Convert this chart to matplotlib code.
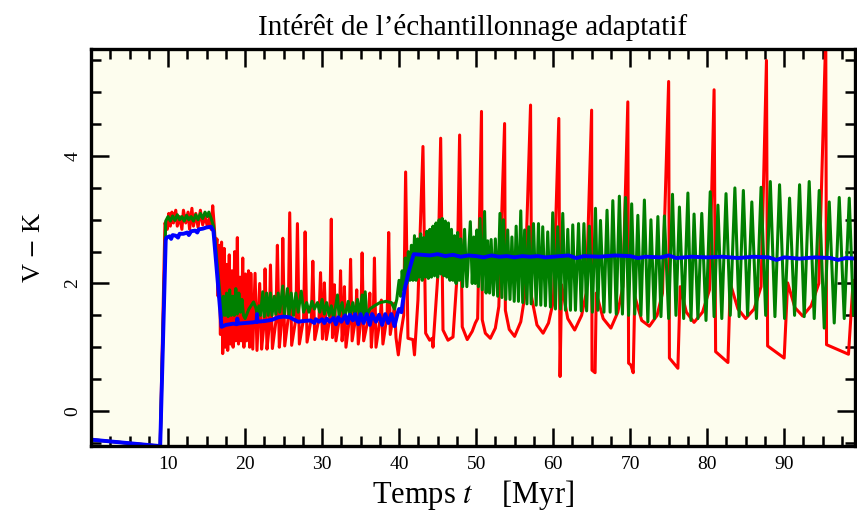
import matplotlib
matplotlib.use('Agg')
import matplotlib.pyplot as plt
from matplotlib.ticker import MultipleLocator

plt.rcParams['font.family'] = ['Liberation Serif', 'DejaVu Serif']
plt.rcParams['mathtext.fontset'] = 'stix'

# red curve (time in Myr, V-K)
red_t = [0, 8.8, 8.95, 9.6, 9.9, 10.1, 10.3, 10.5, 10.7, 11.0, 11.2, 11.5, 11.8, 12.0, 12.3,
         12.6, 12.8, 13.1, 13.3, 13.6, 13.9, 14.2, 14.5, 14.8, 15.1, 15.4, 15.6, 15.8, 16.0,
         16.2, 16.35, 16.5, 16.65, 16.8, 16.95, 17.1, 17.3, 17.45, 17.6, 17.75, 17.95, 18.1,
         18.3, 18.45, 18.65, 18.8, 19.0, 19.15, 19.35, 19.5, 19.7, 19.85, 20.05, 20.2, 20.45,
         20.6, 20.75, 21.0, 21.3, 21.55, 21.9, 22.15, 22.45, 22.6, 22.85, 23.15, 23.3, 23.55,
         24.0, 24.2, 24.45, 24.75, 24.9, 25.15, 25.6, 25.8, 26.05, 26.6, 26.8, 27.05, 27.6,
         27.8, 28.05, 28.6, 28.8, 29.05, 29.6, 29.8, 30.05, 30.2, 30.3, 30.55, 31.0, 31.2,
         31.35, 31.5, 31.6, 31.8, 32.25, 32.4, 32.6, 32.8, 32.9, 33.1, 33.55, 33.7, 33.9,
         34.35, 34.5, 34.7, 35.05, 35.2, 35.4, 36.0, 36.2, 36.4, 36.65, 36.8, 37.0, 37.55,
         37.7, 37.9, 38.45, 38.65, 38.85, 39.25, 39.4, 39.6, 39.9, 40.2, 40.6, 40.85, 41.15,
         41.8, 42.0, 42.45, 43.1, 43.45, 43.97, 44.3, 44.4, 45.05, 45.4, 45.7, 46.35, 47.0,
         47.55, 47.86, 48.2, 48.85, 49.5, 49.9, 50.2, 50.7, 50.8, 51.2, 51.85, 52.5, 52.95,
         53.7, 53.8, 54.3, 55.0, 55.8, 56.3, 57.07, 57.2, 57.9, 58.7, 59.4, 59.9, 60.05, 60.74,
         60.9, 61.1, 61.9, 62.8, 63.7, 64.3, 65.0, 65.05, 65.45, 65.6, 66.5, 67.5, 68.4, 69.05,
         69.7, 69.8, 70.1, 70.4, 70.6, 71.5, 72.5, 73.5, 74.2, 75.0, 75.1, 76.2, 76.5, 77.3,
         78.3, 79.4, 80.3, 80.9, 81.1, 82.7, 83.0, 84.0, 85.0, 86.1, 87.0, 87.7, 87.85, 90.0,
         90.45, 91.4, 92.4, 93.5, 94.5, 95.4, 95.5, 98.35, 98.96, 99.4]
red_v = [-0.45, -0.55, -0.7, 2.95, 2.85, 3.1, 2.9, 3.12, 2.95, 3.15, 2.9, 3.05, 2.85, 3.15, 2.95,
         3.12, 2.85, 3.18, 2.9, 3.1, 2.88, 3.15, 2.92, 3.05, 2.9, 3.05, 2.85, 3.22, 2.9,
         2.5, 2.7, 1.8, 2.6, 1.2, 2.65, 0.9, 2.55, 1.0, 2.3, 0.95, 2.45, 1.05,
         2.2, 1.0, 2.5, 1.1, 2.72, 1.05, 2.1, 1.1, 2.4, 1.0, 2.15, 1.1, 2.2,
         1.0, 2.16, 0.97, 2.16, 0.95, 2.0, 0.97, 1.35, 2.23, 0.97, 1.35, 2.29, 0.98,
         1.4, 2.6, 1.0, 1.4, 2.71, 1.02, 1.45, 3.11, 1.03, 1.45, 2.94, 1.05, 1.45,
         2.81, 1.08, 1.45, 2.35, 1.12, 1.45, 2.17, 1.13, 1.4, 2.01, 1.12, 1.45, 3.01,
         1.15, 1.4, 1.98, 1.1, 1.45, 2.2, 1.1, 1.4, 1.95, 1.0, 1.45, 2.38, 1.1,
         1.45, 1.9, 1.05, 1.45, 2.48, 1.1, 1.45, 1.85, 1.0, 1.45, 2.4, 1.0, 1.45,
         1.74, 1.05, 1.5, 2.8, 1.2, 1.5, 1.69, 1.15, 0.88, 1.2, 1.5, 3.75, 1.14,
         1.12, 0.88, 1.74, 4.15, 1.22, 1.11, 1.14, 1.0, 2.16, 4.28, 1.27, 1.11, 1.16,
         2.16, 4.33, 1.32, 1.12, 1.25, 1.38, 1.45, 4.70, 1.43, 1.22, 1.14, 1.3, 1.64,
         4.51, 1.58, 1.28, 1.17, 1.4, 1.79, 4.80, 1.79, 1.35, 1.22, 1.38, 1.65, 1.79, 4.59,
         0.54, 1.98, 1.45, 1.27, 1.5, 1.85, 4.72, 0.64, 0.6, 1.85, 1.45, 1.30, 1.55, 1.95,
         4.85, 0.75, 0.72, 0.6, 1.8, 1.42, 1.33, 1.5, 1.85, 5.17, 0.83, 0.67, 1.95, 1.55,
         1.39, 1.55, 1.9, 5.04, 0.93, 0.76, 2.0, 1.6, 1.45, 1.6, 1.95, 5.50, 1.02, 0.83,
         2.01, 1.62, 1.49, 1.65, 2.0, 5.9, 1.04, 0.89, 2.05, 1.9]

# green curve
green_t = [0, 8.8, 8.95, 9.7, 10.0, 10.3, 10.6, 10.9, 11.2, 11.5, 11.8, 12.1, 12.4, 12.7, 13.0,
           13.3, 13.6, 13.9, 14.2, 14.5, 14.8, 15.1, 15.3, 15.6, 15.9, 16.1, 17.0, 17.2, 17.4,
           17.6, 17.8, 18.0, 18.2, 18.4, 18.6, 18.8, 19.0, 19.2, 19.4, 19.6, 19.8, 20.0, 20.5,
           21.1, 21.4, 21.6, 21.8, 22.0, 22.3, 22.5, 22.8, 23.0, 23.3, 23.5, 23.8, 24.0, 24.3,
           24.5, 24.9, 25.1, 25.5, 25.7, 26.0, 26.3, 26.6, 26.9, 27.3, 27.6, 28.0, 28.3, 28.7,
           29.0, 29.4, 29.7, 30.0, 30.3, 30.6, 30.9, 31.2, 31.5, 32.0, 32.2, 32.6, 32.9, 33.4,
           33.6, 34.0, 34.3, 34.6, 34.9, 35.2, 35.4, 35.6, 35.8, 36.2, 36.8, 37.5, 38.3, 39.0,
           39.4, 39.7, 40.0, 40.2, 40.4, 40.6, 40.8, 41.0, 41.2, 41.4, 41.6, 41.8, 42.0, 42.2,
           42.4, 42.6, 42.8, 43.0, 43.2, 43.4, 43.6, 43.8, 44.0, 44.2, 44.4, 44.6, 44.8, 45.0,
           45.2, 45.4, 45.6, 45.8, 46.0, 46.2, 46.4, 46.6, 46.8, 47.0, 47.2, 47.4, 47.6, 47.8,
           48.0, 48.25, 48.5, 48.8, 49.25, 49.5, 49.7, 49.9, 50.1, 50.3, 50.5, 50.8, 51.1,
           51.3, 51.5, 51.75, 51.95, 52.25, 52.5, 52.8, 53.1, 53.35, 53.55, 53.85, 54.1, 54.4,
           54.65, 54.95, 55.2, 55.5, 55.8, 56.05, 56.3, 56.6, 56.85, 57.15, 57.45, 57.8, 58.1,
           58.4, 58.65, 59.0, 59.3, 59.65, 59.95, 60.3, 60.6, 60.95, 61.25, 61.6, 61.9, 62.25,
           62.55, 62.9, 63.3, 63.65, 64.0, 64.35, 64.7, 65.1, 65.5, 65.8, 66.15, 66.6, 67.0,
           67.4, 67.75, 68.2, 68.6, 69.0, 69.4, 69.8, 70.2, 70.6, 71.0, 71.4, 71.85, 72.3,
           72.7, 73.15, 73.6, 74.0, 74.45, 75.0, 75.5, 75.95, 76.4, 76.95, 77.5, 77.9, 78.3,
           78.8, 79.3, 79.85, 80.4, 80.9, 81.4, 81.9, 82.45, 83.0, 83.6, 84.15, 84.7, 85.25,
           85.8, 86.4, 87.0, 87.6, 88.2, 88.8, 89.4, 90.05, 90.7, 91.35, 92.0, 92.6, 93.25,
           93.9, 94.55, 95.2, 95.85, 96.5, 97.15, 97.8, 98.45, 99.0, 99.4]
green_v = [-0.45, -0.55, -0.7, 2.98, 3.05, 2.98, 3.06, 2.99, 3.08, 3.0, 3.05, 2.98, 3.07, 3.0, 3.05,
           2.98, 3.08, 3.0, 3.1, 3.02, 3.12, 3.05, 3.12, 3.02, 2.9, 2.68, 1.48, 1.8, 1.5,
           1.85, 1.48, 1.9, 1.5, 1.8, 1.5, 1.92, 1.52, 1.85, 1.55, 1.75, 1.5, 1.45, 1.6,
           1.71, 1.62, 1.5, 1.65, 1.5, 1.87, 1.48, 1.85, 1.5, 1.85, 1.5, 1.8, 1.52, 1.85,
           1.55, 1.96, 1.5, 1.92, 1.5, 1.85, 1.5, 1.85, 1.55, 1.88, 1.55, 1.7, 1.55, 1.72,
           1.6, 1.7, 1.55, 1.75, 1.52, 1.7, 1.5, 1.65, 1.45, 1.82, 1.5, 1.7, 1.45, 1.72,
           1.48, 1.7, 1.48, 1.75, 1.5, 1.82, 1.5, 1.87, 1.5, 1.6, 1.65, 1.7, 1.72, 1.7,
           1.6, 1.75, 2.05, 1.8, 2.2, 1.9, 2.4, 2.0, 2.5, 2.05, 2.6, 2.05, 2.75, 2.05,
           2.7, 2.1, 2.78, 2.05, 2.72, 2.1, 2.82, 2.08, 2.85, 2.1, 2.9, 2.12, 2.95, 2.1,
           3.0, 2.15, 3.02, 2.12, 2.98, 2.1, 2.95, 2.05, 2.85, 2.05, 2.75, 2.0, 2.8, 2.05,
           2.7, 1.95, 2.85, 1.95, 2.97, 2.0, 2.73, 2.0, 2.84, 1.95, 3.02, 1.9, 3.13,
           1.85, 2.67, 1.85, 2.69, 1.82, 2.7, 1.8, 3.1, 1.78, 3.0, 1.75, 2.84, 1.75,
           2.73, 1.72, 2.9, 1.72, 3.14, 1.7, 2.84, 1.68, 2.89, 1.68, 2.94, 1.66, 2.94,
           1.66, 2.89, 1.65, 2.81, 1.63, 3.11, 1.6, 2.89, 1.6, 3.1, 1.58, 2.85, 1.58,
           2.92, 1.58, 2.94, 1.57, 2.94, 1.57, 2.9, 1.55, 3.18, 1.58, 2.99, 1.55, 3.15,
           1.55, 3.3, 1.52, 3.37, 1.52, 3.35, 1.5, 3.25, 1.52, 3.07, 1.5, 3.31, 1.4,
           3.0, 1.45, 3.05, 1.48, 3.06, 1.45, 3.4, 1.5, 3.2, 1.45, 3.42, 1.42, 3.09,
           1.45, 3.1, 1.42, 3.44, 1.48, 3.23, 1.45, 3.41, 1.5, 3.5, 1.48, 3.46, 1.5,
           3.28, 1.45, 3.51, 1.5, 3.6, 1.48, 3.55, 1.45, 3.34, 1.5, 3.55, 1.48, 3.6,
           1.45, 3.46, 1.3, 3.28, 1.38, 3.35, 1.45, 3.34, 1.5, 2.0]

# blue curve
blue_t = [0, 8.85, 8.95, 9.7, 9.8, 10.2, 10.4, 10.6, 11.0, 11.3, 11.5, 12.0, 12.5, 12.7, 13.0,
          13.5, 13.8, 14.0, 14.5, 15.0, 15.6, 15.9, 16.95, 17.5, 18.5, 18.9, 19.0, 19.1, 20.0,
          21.0, 21.5, 21.55, 21.6, 22.5, 23.5, 24.3, 25.0, 25.8, 26.4, 26.9, 27.5, 28.5, 29.0,
          29.2, 29.6, 30.0, 30.3, 30.6, 31.0, 31.5, 31.8, 32.1, 32.5, 33.0, 33.3, 33.6, 34.0,
          34.3, 34.7, 35.0, 35.4, 35.8, 36.2, 36.5, 37.0, 37.4, 37.8, 38.2, 38.6, 39.0, 39.4,
          39.8, 40.0, 40.3, 40.7, 41.2, 41.9, 43, 44, 45, 46, 47, 48, 49, 50, 51, 52, 53, 54,
          55, 56, 57, 58, 59, 60, 62, 63, 64, 66, 68, 70, 71, 72, 74, 75, 76, 78, 80, 82, 84,
          86, 88, 89, 90, 92, 94, 96, 97, 98, 99.4]
blue_v = [-0.45, -0.55, -0.7, 2.68, 2.72, 2.74, 2.7, 2.76, 2.75, 2.72, 2.78, 2.78, 2.8, 2.76, 2.82,
          2.83, 2.8, 2.85, 2.86, 2.88, 2.89, 2.82, 1.32, 1.35, 1.37, 1.36, 1.45, 1.37, 1.38,
          1.39, 1.4, 1.52, 1.4, 1.41, 1.43, 1.47, 1.48, 1.47, 1.43, 1.40, 1.41, 1.42, 1.38,
          1.44, 1.40, 1.44, 1.38, 1.45, 1.40, 1.46, 1.36, 1.47, 1.40, 1.5, 1.38, 1.51, 1.42,
          1.52, 1.36, 1.52, 1.38, 1.52, 1.35, 1.52, 1.40, 1.51, 1.35, 1.52, 1.38, 1.52, 1.33,
          1.53, 1.6, 1.55, 1.9, 2.16, 2.46, 2.45, 2.44, 2.46, 2.43, 2.45, 2.42, 2.44, 2.43,
          2.41, 2.44, 2.42, 2.43, 2.41, 2.43, 2.42, 2.43, 2.41, 2.42, 2.44, 2.40, 2.43, 2.42,
          2.44, 2.43, 2.40, 2.42, 2.41, 2.44, 2.40, 2.42, 2.41, 2.42, 2.40, 2.42, 2.41, 2.37,
          2.41, 2.39, 2.41, 2.40, 2.37, 2.40, 2.39]

fig = plt.figure(figsize=(8.57, 5.2), dpi=100)
ax = fig.add_axes([0.1062, 0.1423, 0.8915, 0.7635])
ax.set_facecolor('#fdfdee')

ax.plot(red_t, red_v, color='#ff0000', lw=2.2)
ax.plot(green_t, green_v, color='#008000', lw=2.2)
ax.plot(blue_t, blue_v, color='#0000ff', lw=2.8)

ax.set_xlim(0, 99.2)
ax.set_ylim(-0.55, 5.68)

ax.xaxis.set_major_locator(MultipleLocator(10))
ax.xaxis.set_minor_locator(MultipleLocator(2.5))
ax.yaxis.set_major_locator(MultipleLocator(2))
ax.yaxis.set_minor_locator(MultipleLocator(0.5))
ax.set_xticks([10, 20, 30, 40, 50, 60, 70, 80, 90])
ax.tick_params(which='both', direction='in', top=True, right=True, width=1.8)
ax.tick_params(which='major', length=13, labelsize=14, pad=7)
ax.tick_params(which='minor', length=7)
for lab in ax.get_yticklabels():
    lab.set_rotation(90)
    lab.set_va('center')
for sp in ax.spines.values():
    sp.set_linewidth(2.4)

ax.set_xlabel('Temps $t$    [Myr]', fontsize=22, labelpad=4)
ax.set_ylabel('V $-$ K', fontsize=19, labelpad=14)
ax.set_title("Intérêt de l’échantillonnage adaptatif", fontsize=21, pad=10)

fig.savefig('out.png', dpi=100)
